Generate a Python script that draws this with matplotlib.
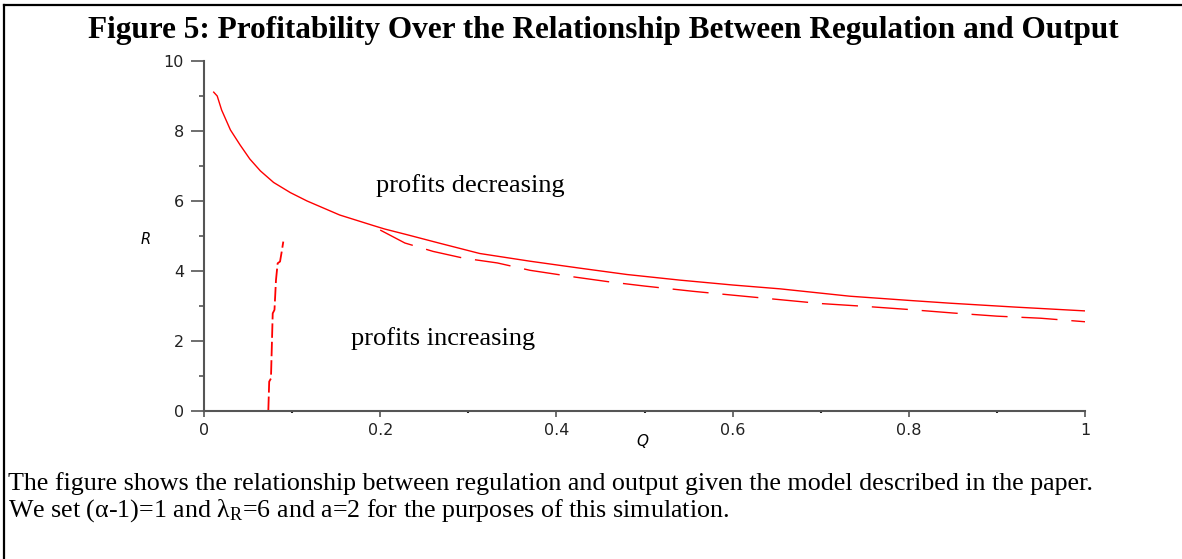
import numpy as np
import matplotlib
matplotlib.use('Agg')
import matplotlib.pyplot as plt
from matplotlib.lines import Line2D
from matplotlib.ticker import MultipleLocator

plt.rcParams['mathtext.fontset'] = 'custom'
plt.rcParams['mathtext.rm'] = 'Liberation Serif'
plt.rcParams['mathtext.it'] = 'Liberation Serif:italic'

# solid boundary curve (upper)
q_solid = [0.011, 0.015, 0.02, 0.03, 0.041, 0.052, 0.064, 0.079, 0.098, 0.117,
           0.154, 0.192, 0.205, 0.23, 0.268, 0.313, 0.37, 0.427, 0.48, 0.54,
           0.6, 0.654, 0.733, 0.8, 0.847, 0.92, 1.0]
r_solid = [9.11, 9.0, 8.6, 8.03, 7.6, 7.2, 6.86, 6.53, 6.24, 6.0,
           5.6, 5.3, 5.2, 5.04, 4.79, 4.5, 4.28, 4.08, 3.9, 3.74,
           3.6, 3.49, 3.28, 3.16, 3.08, 2.97, 2.86]

# dashed boundary, lower branch
q_dash = [0.200, 0.228, 0.26, 0.294, 0.333, 0.37, 0.42, 0.46, 0.50, 0.555,
          0.60, 0.65, 0.70, 0.75, 0.80, 0.85, 0.90, 0.95, 1.0]
r_dash = [5.17, 4.80, 4.56, 4.37, 4.23, 4.02, 3.83, 3.69, 3.57, 3.42,
          3.31, 3.19, 3.07, 2.99, 2.90, 2.80, 2.71, 2.65, 2.55]

# dashed boundary, near-vertical branch
q_vert = [0.073, 0.074, 0.076, 0.078, 0.080, 0.0817, 0.0836, 0.0863, 0.0882, 0.090]
r_vert = [0.0, 0.84, 0.93, 2.79, 2.89, 3.74, 4.22, 4.27, 4.55, 4.84]

title = 'Figure 5: Profitability Over the Relationship Between Regulation and Output'
caption1 = ('The figure shows the relationship between regulation and output '
            'given the model described in the paper.')
caption2 = 'We set (\u03b1-1)=1 and \u03bb$_\\mathrm{R}$=6 and a=2 for the purposes of this simulation.'

W, H = 1182, 559
fig = plt.figure(figsize=(W/100., H/100.), dpi=100)
ax = fig.add_axes([204./W, 1-411./H, 881./W, 350./H])

red = '#ff0000'
ax.plot(q_solid, r_solid, color=red, linewidth=1.0)
ax.plot(q_dash, r_dash, color=red, linewidth=1.0, linestyle=(0, (26, 10)))
ax.plot(q_vert, r_vert, color=red, linewidth=1.3, linestyle=(0, (8, 2.2)))

ax.set_xlim(0, 1)
ax.set_ylim(0, 10)
ax.xaxis.set_minor_locator(MultipleLocator(0.1))
ax.yaxis.set_major_locator(MultipleLocator(2))
ax.yaxis.set_minor_locator(MultipleLocator(1))
ax.set_xticks([0, 0.2, 0.4, 0.6, 0.8, 1.0])
ax.set_xticklabels(['0', '0.2', '0.4', '0.6', '0.8', '1'])

axcol = '#555555'
for s in ['top', 'right']:
    ax.spines[s].set_visible(False)
for s in ['left', 'bottom']:
    ax.spines[s].set_color(axcol)
    ax.spines[s].set_linewidth(1.5)
ax.tick_params(axis='y', which='major', length=9.4, width=1.2, color=axcol,
               pad=5, labelsize=11.5, labelcolor='#222222')
ax.tick_params(axis='y', which='minor', length=3.6, width=1.2, color=axcol)
ax.tick_params(axis='x', which='major', length=4.3, width=1.2, color=axcol,
               pad=4, labelsize=11.5, labelcolor='#222222')
ax.tick_params(axis='x', which='minor', length=1.5, width=1.5, color='#222222')

ax.set_ylabel('R', rotation=0, fontsize=10.5, style='italic')
ax.yaxis.set_label_coords(-0.066, 0.47)
ax.set_xlabel('Q', fontsize=11, style='italic')
ax.xaxis.set_label_coords(0.498, -0.065)

serif = 'Liberation Serif'
ax.text(0.195, 6.26, 'profits decreasing', family=serif, fontsize=19,
        ha='left', va='baseline')
ax.text(0.167, 1.89, 'profits increasing', family=serif, fontsize=19,
        ha='left', va='baseline')

fig.text(603./W, 1-38./H, title, family=serif, fontsize=22.5, weight='bold',
         ha='center', va='baseline')
fig.text(8./W, 1-490./H, caption1, family=serif, fontsize=18.75,
         ha='left', va='baseline')
fig.text(8./W, 1-517./H, caption2, family=serif, fontsize=18.75,
         ha='left', va='baseline')

# partial frame round the figure
fig.add_artist(Line2D([4./W, 1], [1-5./H, 1-5./H], color='black', linewidth=1.6))
fig.add_artist(Line2D([4./W, 4./W], [0, 1-5./H], color='black', linewidth=1.6))

fig.savefig('out.png', dpi=100)
